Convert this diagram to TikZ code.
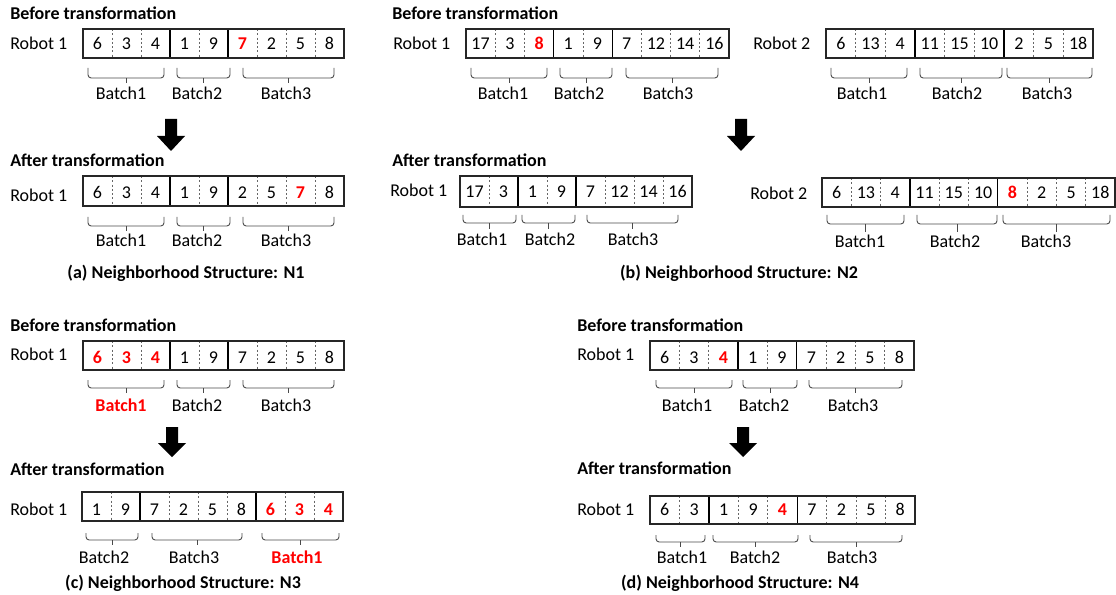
\documentclass[tikz,border=0pt]{standalone}
\usepackage{fontspec}
\setmainfont{Carlito}
\usepackage{xcolor}
\definecolor{bracecol}{HTML}{4A4A4A}
\definecolor{linecol}{HTML}{262626}
\newcommand{\rd}[1]{\textcolor{red}{\bfseries #1}}
% #1 name prefix, #2 x0, #3 x1, #4 ytop, #5 ybot, #6 n cells, #7 solid dividers, #8 values, #9 baseline
\newcommand{\cellrow}[9]{%
  \pgfmathsetmacro\cw{(#3-#2)/#6}%
  \pgfmathtruncatemacro\nm{#6-1}%
  \foreach \i in {1,...,\nm} \draw[dv] ({#2+\i*\cw},#4) -- ({#2+\i*\cw},#5);
  \foreach \i in {#7} \draw[sv] ({#2+\i*\cw},#4) -- ({#2+\i*\cw},#5);
  \draw[boxln] (#2,#4) rectangle (#3,#5);
  \foreach \v [count=\i] in {#8} \node[num] (#1\i) at ({#2+(\i-0.5)*\cw},#9) {\v};
}
% #1 x1, #2 x2, #3 ytop, #4 ybot, #5 ytick
\newcommand{\brc}[5]{%
  \draw[brace] (#1,#3) -- (#1,#4) -- (#2,#4) -- (#2,#3);
  \draw[brace] ({(#1+#2)/2},#4) -- ({(#1+#2)/2},#5);
}
% #1 x center, #2 shaft top, #3 head top, #4 tip
\newcommand{\bigdownarrow}[4]{%
  \fill[black] ({#1-6},#2) -- ({#1+6},#2) -- ({#1+6},#3) -- ({#1+14},#3) -- (#1,#4) -- ({#1-14},#3) -- ({#1-6},#3) -- cycle;
}
\tikzset{
  txt/.style={inner sep=0pt, font=\fontsize{13.5}{16}\selectfont},
  ttl/.style={txt, anchor=base west, font=\fontsize{13.5}{16}\selectfont\bfseries},
  rob/.style={txt, anchor=base west},
  num/.style={txt, anchor=base},
  lbl/.style={txt, anchor=base},
  captxt/.style={txt, anchor=base, font=\fontsize{13.5}{16}\selectfont\bfseries},
  boxln/.style={draw=linecol, line width=0.8pt},
  sv/.style={draw=black, line width=0.9pt},
  dv/.style={draw=black!60, line width=0.5pt, dash pattern=on 1.6pt off 1.6pt},
  brace/.style={draw=bracecol, line width=0.7pt, rounded corners=2.4pt},
}
\begin{document}
\begin{tikzpicture}[x=0.75pt, y=-0.75pt]
\useasboundingbox (0,0) rectangle (1116,595);
\fill[white] (0,0) rectangle (1116,595);

% ---------------- (a) ----------------
\node[ttl] (aBt) at (10,19.5) {Before transformation};
\node[rob] (aBr) at (10,49.3) {Robot 1};
\cellrow{aB}{83}{344}{29}{58}{9}{3,5}{6,3,4,1,9,\rd{7},2,5,8}{50}
\brc{88}{164}{68}{78}{83}\brc{177}{230}{68}{78}{83}\brc{243}{334}{68}{78}{83}
\node[lbl] (aBb1) at (121,99.3) {Batch1};
\node[lbl] (aBb2) at (197,99.3) {Batch2};
\node[lbl] (aBb3) at (286,99.3) {Batch3};
\bigdownarrow{171}{119}{136}{151}
\node[ttl] (aAt) at (10,166.7) {After transformation};
\node[rob] (aAr) at (10,201.7) {Robot 1};
\cellrow{aA}{83}{344}{176}{206}{9}{3,5}{6,3,4,1,9,2,5,\rd{7},8}{198.3}
\brc{88}{164}{217}{226}{231}\brc{177}{230}{217}{226}{231}\brc{243}{334}{217}{226}{231}
\node[lbl] (aAb1) at (121,246.7) {Batch1};
\node[lbl] (aAb2) at (197,246.7) {Batch2};
\node[lbl] (aAb3) at (286,246.7) {Batch3};
\node[captxt] (aC) at (186,278) {(a) Neighborhood Structure: N1};

% ---------------- (b) ----------------
\node[ttl] (bBt) at (392,19.5) {Before transformation};
\node[rob] (bBr) at (393,49.3) {Robot 1};
\cellrow{bB}{466}{729}{29}{58}{9}{3,5}{17,3,\rd{8},1,9,7,12,14,16}{50}
\brc{471}{547}{68}{78}{83}\brc{560}{612}{68}{78}{83}\brc{626}{718}{68}{78}{83}
\node[lbl] (bBb1) at (503,99.5) {Batch1};
\node[lbl] (bBb2) at (579,99.5) {Batch2};
\node[lbl] (bBb3) at (668,99.5) {Batch3};
\node[rob] (bBr2) at (753,49.3) {Robot 2};
\cellrow{bBs}{826}{1093}{29}{58}{9}{3,6}{6,13,4,11,15,10,2,5,18}{50}
\brc{831}{907}{68}{78}{83}\brc{920}{1002}{68}{78}{83}\brc{1007}{1092}{68}{78}{83}
\node[lbl] (bBsb1) at (862,99.3) {Batch1};
\node[lbl] (bBsb2) at (957,99.3) {Batch2};
\node[lbl] (bBsb3) at (1047,99.3) {Batch3};
\bigdownarrow{741}{119}{136}{151}
\node[ttl] (bAt) at (392,166.7) {After transformation};
\node[rob] (bAr) at (390,196.7) {Robot 1};
\cellrow{bA}{460}{692}{176}{207}{8}{2,4}{17,3,1,9,7,12,14,16}{198}
\brc{463}{516}{215}{223}{229}\brc{522}{575}{215}{223}{229}\brc{587}{678}{215}{223}{229}
\node[lbl] (bAb1) at (482,245) {Batch1};
\node[lbl] (bAb2) at (550,245) {Batch2};
\node[lbl] (bAb3) at (633,245) {Batch3};
\node[rob] (bAr2) at (750,199.3) {Robot 2};
\cellrow{bAs}{822}{1115}{178}{207}{10}{3,6}{6,13,4,11,15,10,\rd{8},2,5,18}{199}
\brc{827}{904}{215}{224}{232}\brc{917}{997}{215}{224}{232}\brc{1003}{1110}{215}{224}{232}
\node[lbl] (bAsb1) at (860,247.3) {Batch1};
\node[lbl] (bAsb2) at (955,247.3) {Batch2};
\node[lbl] (bAsb3) at (1046,247.3) {Batch3};
\node[captxt] (bC) at (739,278) {(b) Neighborhood Structure: N2};

% ---------------- (c) ----------------
\node[ttl] (cBt) at (10,331.7) {Before transformation};
\node[rob] (cBr) at (10,360.7) {Robot 1};
\cellrow{cB}{83}{344}{341}{370}{9}{3,5}{\rd{6},\rd{3},\rd{4},1,9,7,2,5,8}{363}
\brc{88}{164}{380}{388}{393}\brc{177}{230}{380}{388}{393}\brc{243}{334}{380}{388}{393}
\node[lbl] (cBb1) at (121,411.7) {\rd{Batch1}};
\node[lbl] (cBb2) at (197,411.7) {Batch2};
\node[lbl] (cBb3) at (286,411.7) {Batch3};
\bigdownarrow{172}{427}{443}{457}
\node[ttl] (cAt) at (10,475) {After transformation};
\node[rob] (cAr) at (10,515) {Robot 1};
\cellrow{cA}{82}{343}{492}{521}{9}{2,6}{1,9,7,2,5,8,\rd{6},\rd{3},\rd{4}}{515}
\brc{86}{138}{533}{540}{545}\brc{152}{242}{533}{540}{545}\brc{262}{339}{533}{540}{545}
\node[lbl] (cAb2) at (104,563.3) {Batch2};
\node[lbl] (cAb3) at (194,563.3) {Batch3};
\node[lbl] (cAb1) at (297,563.3) {\rd{Batch1}};
\node[captxt] (cC) at (183,588.3) {(c) Neighborhood Structure: N3};

% ---------------- (d) ----------------
\node[ttl] (dBt) at (577,331.7) {Before transformation};
\node[rob] (dBr) at (577,360) {Robot 1};
\cellrow{dB}{650}{914}{341}{370}{9}{3,5}{6,3,\rd{4},1,9,7,2,5,8}{363}
\brc{656}{732}{380}{388}{393}\brc{743}{797}{380}{388}{393}\brc{809}{902}{380}{388}{393}
\node[lbl] (dBb1) at (687,411) {Batch1};
\node[lbl] (dBb2) at (764,411) {Batch2};
\node[lbl] (dBb3) at (853,411) {Batch3};
\bigdownarrow{743}{427}{443}{457}
\node[ttl] (dAt) at (577,474) {After transformation};
\node[rob] (dAr) at (577,515.7) {Robot 1};
\cellrow{dA}{650}{915}{496}{524}{9}{2,5}{6,3,1,9,\rd{4},7,2,5,8}{515}
\brc{656}{705}{535}{542}{547}\brc{713}{798}{535}{542}{547}\brc{810}{902}{535}{542}{547}
\node[lbl] (dAb1) at (682,563.3) {Batch1};
\node[lbl] (dAb2) at (755,563.3) {Batch2};
\node[lbl] (dAb3) at (852,563.3) {Batch3};
\node[captxt] (dC) at (740,588.3) {(d) Neighborhood Structure: N4};
\end{tikzpicture}
\end{document}
